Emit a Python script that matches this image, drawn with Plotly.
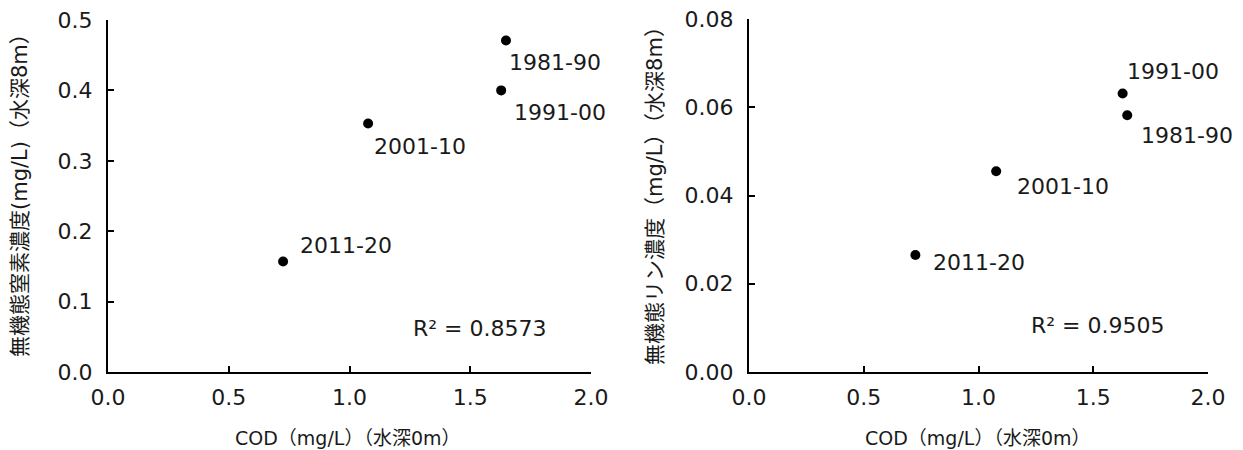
import plotly.graph_objects as go

# Decadal averages: surface COD vs. inorganic nutrients at 8 m depth
periods = ["1981-90", "1991-00", "2001-10", "2011-20"]
cod = [1.648, 1.628, 1.077, 0.725]
din = [0.471, 0.400, 0.353, 0.157]
dip = [0.0582, 0.0631, 0.0455, 0.0265]
r2_n = "R² = 0.8573"
r2_p = "R² = 0.9505"

x_ticks = [0.0, 0.5, 1.0, 1.5, 2.0]
x_tick_text = ["0.0", "0.5", "1.0", "1.5", "2.0"]
yn_ticks = [0.0, 0.1, 0.2, 0.3, 0.4, 0.5]
yn_tick_text = ["0.0", "0.1", "0.2", "0.3", "0.4", "0.5"]
yp_ticks = [0.0, 0.02, 0.04, 0.06, 0.08]
yp_tick_text = ["0.00", "0.02", "0.04", "0.06", "0.08"]

x_title = "COD（mg/L）（水深0m）"
yn_title = "無機態窒素濃度(mg/L)（水深8m）"
yp_title = "無機態リン濃度（mg/L）（水深8m）"

FONT = "DejaVu Sans, Noto Sans CJK JP, sans-serif"
W, H = 1243, 450
TXT = "#1a1a1a"

fig = go.Figure()
fig.add_trace(go.Scatter(x=cod, y=din, mode="markers", xaxis="x", yaxis="y",
                         marker=dict(color="black", size=10), hoverinfo="skip"))
fig.add_trace(go.Scatter(x=cod, y=dip, mode="markers", xaxis="x2", yaxis="y2",
                         marker=dict(color="black", size=10), hoverinfo="skip"))

axis_common = dict(showline=True, linecolor="black", linewidth=2, ticks="inside",
                   ticklen=6, tickwidth=2, tickcolor="black", showgrid=False,
                   zeroline=False, mirror=False, automargin=False,
                   tickfont=dict(family=FONT, size=22, color=TXT))
x_common = dict(ticklabelstandoff=5, **axis_common)
y_common = dict(ticklabelstandoff=9, **axis_common)

fig.update_layout(
    width=W, height=H, margin=dict(l=0, r=0, t=0, b=0, autoexpand=False),
    paper_bgcolor="white", plot_bgcolor="white", showlegend=False,
    font=dict(family=FONT, color=TXT),
    xaxis=dict(domain=[108 / W, 591 / W], range=[0, 2.0], anchor="y",
               tickvals=x_ticks, ticktext=x_tick_text, **x_common),
    yaxis=dict(domain=[(H - 372) / H, (H - 20) / H], range=[0, 0.5], anchor="x",
               tickvals=yn_ticks, ticktext=yn_tick_text, **y_common),
    xaxis2=dict(domain=[749 / W, 1208 / W], range=[0, 2.0], anchor="y2",
                tickvals=x_ticks, ticktext=x_tick_text, **x_common),
    yaxis2=dict(domain=[(H - 372) / H, (H - 19) / H], range=[0, 0.08], anchor="x2",
                tickvals=yp_ticks, ticktext=yp_tick_text, **y_common),
)

label_font = dict(family=FONT, size=22, color=TXT)

# Period label offsets from their points, in pixels (dx, dy)
offsets_n = {"1981-90": (1, -22), "1991-00": (11, -22), "2001-10": (4, -23), "2011-20": (15, 16)}
offsets_p = {"1981-90": (12, -20), "1991-00": (2, 22), "2001-10": (19, -15), "2011-20": (16, -7)}

for i, p in enumerate(periods):
    dx, dy = offsets_n[p]
    fig.add_annotation(x=cod[i], y=din[i], xref="x", yref="y", text=p, showarrow=False,
                       xanchor="left", yanchor="middle", xshift=dx, yshift=dy, font=label_font)
    dx, dy = offsets_p[p]
    fig.add_annotation(x=cod[i], y=dip[i], xref="x2", yref="y2", text=p, showarrow=False,
                       xanchor="left", yanchor="middle", xshift=dx, yshift=dy, font=label_font)

fig.add_annotation(x=1.54, y=0.0625, xref="x", yref="y", text=r2_n, showarrow=False,
                   xanchor="center", yanchor="middle", font=label_font)
fig.add_annotation(x=1.52, y=0.0106, xref="x2", yref="y2", text=r2_p, showarrow=False,
                   xanchor="center", yanchor="middle", font=label_font)

xt_font = dict(family=FONT, size=19, color=TXT)
yt_font = dict(family=FONT, size=21, color=TXT)
titles = [
    (348, 438, x_title, 0, xt_font),
    (978, 438, x_title, 0, xt_font),
    (20, 190, yn_title, -90, yt_font),
    (655, 191, yp_title, -90, yt_font),
]
for px, py, text, angle, f in titles:
    fig.add_annotation(x=px / W, y=(H - py) / H, xref="paper", yref="paper", text=text,
                       showarrow=False, textangle=angle, xanchor="center",
                       yanchor="middle", font=f)

fig.write_html("out.html")
